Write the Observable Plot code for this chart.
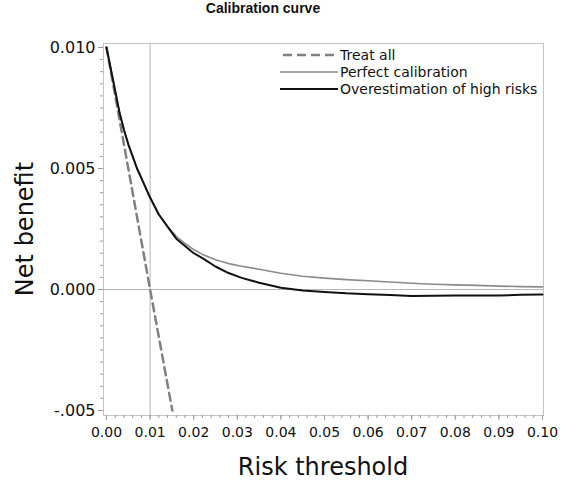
<!DOCTYPE html>
<html><head><meta charset="utf-8">
<script src="https://cdn.jsdelivr.net/npm/d3@7"></script>
<script src="https://cdn.jsdelivr.net/npm/@observablehq/plot@0.6"></script>
<style>
body{margin:0;background:#fff;}
#title{width:526px;height:30px;line-height:32px;text-align:center;font:bold 14px "Liberation Sans",Arial,sans-serif;color:#111;}
#chart svg{display:block;}
</style></head><body>
<div id="title">Calibration curve</div>
<div id="chart"></div>
<script>
// ---- data ----
const title = "Calibration curve";
const xLabel = "Risk threshold";
const yLabel = "Net benefit";
const seriesNames = ["Treat all", "Perfect calibration", "Overestimation of high risks"];

const xTickValues = [0, 0.01, 0.02, 0.03, 0.04, 0.05, 0.06, 0.07, 0.08, 0.09, 0.10];
const xTickLabels = ["0.00","0.01","0.02","0.03","0.04","0.05","0.06","0.07","0.08","0.09","0.10"];
const yTickValues = [0.010, 0.005, 0.000, -0.005];
const yTickLabels = ["0.010","0.005","0.000","-.005"];

const treatAllX = [0, 0.005, 0.010, 0.0151];
const treatAllY = [0.0100, 0.0050, 0.0000, -0.0050];

const perfectX = [0, .001, .002, .003, .004, .005, .006, .007, .008, .009, .010, .012, .014, .016, .018, .020, .022, .025, .028, .031, .035, .040, .045, .050, .055, .060, .065, .070, .075, .080, .085, .090, .095, .100];
const perfectY = [.0100, .0091, .0082, .0073, .0066, .0060, .0055, .0050, .0046, .0042, .0038, .0031, .0026, .0022, .0019, .00165, .00145, .00123, .00107, .00096, .00084, .00067, .00055, .00047, .00041, .00036, .00031, .00026, .00022, .00019, .00017, .00014, .00012, .00011];

const overX = [0, .001, .002, .003, .004, .005, .006, .007, .008, .009, .010, .012, .014, .016, .018, .020, .022, .025, .028, .031, .035, .040, .045, .050, .055, .060, .065, .070, .075, .080, .085, .090, .095, .100];
const overY = [.0100, .0091, .0082, .0073, .0066, .0060, .0055, .0050, .0046, .0042, .0038, .0031, .0026, .0021, .0018, .0015, .0013, .00095, .00068, .00048, .00028, .00007, -.00004, -.0001, -.00016, -.0002, -.00023, -.00027, -.00026, -.00025, -.00025, -.00025, -.00022, -.00021];

// ---- build ----
const zipXY = (xs, ys) => xs.map((x, i) => ({x, y: ys[i]}));
const treatAll = zipXY(treatAllX, treatAllY);
const perfect = zipXY(perfectX, perfectY);
const over = zipXY(overX, overY);
const xMinor = d3.range(0, 0.1001, 0.002);
const yMinor = d3.range(-0.005, 0.01001, 0.0005);

const colors = {treat: "#808080", perfect: "#8a8a8a", over: "#111111"};

const plot = Plot.plot({
  width: 563, height: 452,
  marginTop: 13, marginBottom: 67, marginLeft: 103, marginRight: 20,
  insetLeft: 3, insetRight: 1, insetTop: 4, insetBottom: 5,
  x: {domain: [0, 0.1]},
  y: {domain: [-0.005, 0.010]},
  style: {fontFamily: "'DejaVu Sans', Verdana, sans-serif", color: "#111", background: "white"},
  marks: [
    Plot.ruleX([0.01], {stroke: "#b4b4b4", strokeWidth: 1}),
    Plot.ruleY([0], {stroke: "#b4b4b4", strokeWidth: 1}),
    Plot.frame({stroke: "#c4c4c4"}),
    Plot.axisX({ticks: xMinor, tickSize: 3, tickFormat: () => "", stroke: "#999", label: null}),
    Plot.axisX({ticks: xTickValues, tickSize: 5, tickPadding: 7, fontSize: 14, stroke: "#999", fill: "#111",
      tickFormat: d => xTickLabels[xTickValues.indexOf(d)], label: null}),
    Plot.axisY({ticks: yMinor, tickSize: 3, tickFormat: () => "", stroke: "#999", label: null}),
    Plot.axisY({ticks: yTickValues, tickSize: 5, tickPadding: 3, fontSize: 16, stroke: "#999", fill: "#111",
      tickFormat: d => yTickLabels[yTickValues.indexOf(d)], label: null}),
    Plot.line(treatAll, {x: "x", y: "y", stroke: colors.treat, strokeWidth: 2.5, strokeDasharray: "8,5"}),
    Plot.line(perfect, {x: "x", y: "y", stroke: colors.perfect, strokeWidth: 1.6}),
    Plot.line(over, {x: "x", y: "y", stroke: colors.over, strokeWidth: 2})
  ]
});
document.getElementById("chart").appendChild(plot);

// axis titles and legend
const svg = d3.select(plot);
svg.append("text").attr("x", 323).attr("y", 445).attr("text-anchor", "middle")
  .attr("font-size", 24).attr("fill", "#111").text(xLabel);
svg.append("text").attr("transform", "translate(33,199) rotate(-90)").attr("text-anchor", "middle")
  .attr("font-size", 24).attr("fill", "#111").text(yLabel);

const legendRows = [
  {name: seriesNames[0], stroke: colors.treat, width: 2.5, dash: "9,5", x0: 283},
  {name: seriesNames[1], stroke: colors.perfect, width: 1.6, dash: null, x0: 280},
  {name: seriesNames[2], stroke: colors.over, width: 2, dash: null, x0: 280}
];
const lg = svg.append("g").attr("text-anchor", "start");
legendRows.forEach((r, i) => {
  const y = 25 + i * 17;
  const ln = lg.append("line").attr("x1", r.x0).attr("x2", 338).attr("y1", y).attr("y2", y)
    .attr("stroke", r.stroke).attr("stroke-width", r.width);
  if (r.dash) ln.attr("stroke-dasharray", r.dash);
  lg.append("text").attr("x", 340).attr("y", y + 5).attr("text-anchor", "start")
    .attr("font-size", 14).attr("fill", "#111").text(r.name);
});
</script>
</body></html>
